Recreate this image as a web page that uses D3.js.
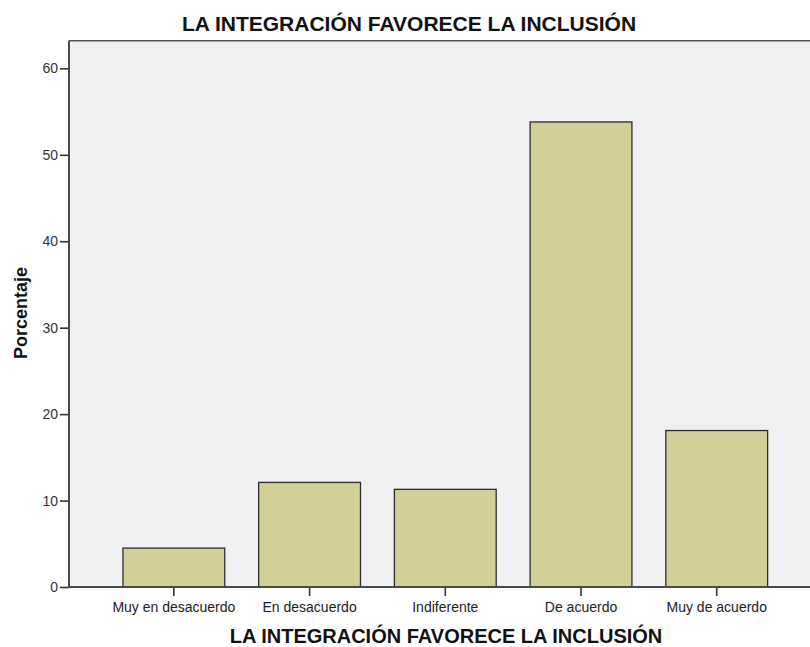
<!DOCTYPE html>
<html>
<head>
<meta charset="utf-8">
<script src="https://cdn.jsdelivr.net/npm/d3@7/dist/d3.min.js"></script>
<style>
  html, body { margin: 0; padding: 0; background: #ffffff; }
  svg { display: block; }
  text { font-family: "Liberation Sans", Arial, sans-serif; }
</style>
</head>
<body>
<svg id="chart" width="810" height="647"></svg>
<script>
const categories = ["Muy en desacuerdo", "En desacuerdo", "Indiferente", "De acuerdo", "Muy de acuerdo"];
const values = [4.5, 12.1, 11.3, 53.8, 18.1];
const yTicks = [0, 10, 20, 30, 40, 50, 60];
const title = "LA INTEGRACIÓN FAVORECE LA INCLUSIÓN";
const xTitle = "LA INTEGRACIÓN FAVORECE LA INCLUSIÓN";
const yTitle = "Porcentaje";

const W = 810, H = 647;
const plot = { left: 69, right: 810, top: 40.7, bottom: 587 };

const svg = d3.select("#chart");

const x = d3.scaleBand()
  .domain(categories)
  .range([106, 784.6])
  .paddingInner(0.25)
  .paddingOuter(0.125);

const y = d3.scaleLinear()
  .domain([0, 63.2])
  .range([plot.bottom, plot.top]);

// plot background
svg.append("rect")
  .attr("x", plot.left).attr("y", plot.top)
  .attr("width", plot.right - plot.left).attr("height", plot.bottom - plot.top)
  .attr("fill", "#f0f0f0");

// top border
svg.append("line")
  .attr("x1", plot.left).attr("x2", plot.right)
  .attr("y1", plot.top).attr("y2", plot.top)
  .attr("stroke", "#555").attr("stroke-width", 1.6);

// bars
svg.append("g").selectAll("rect")
  .data(values)
  .join("rect")
  .attr("x", (d, i) => x(categories[i]))
  .attr("y", d => y(d))
  .attr("width", x.bandwidth())
  .attr("height", d => y(0) - y(d))
  .attr("fill", "#d3cf98")
  .attr("stroke", "#2e2e2e")
  .attr("stroke-width", 1.3);

// y axis
const yAxis = svg.append("g")
  .attr("transform", `translate(${plot.left},0)`)
  .call(d3.axisLeft(y).tickValues(yTicks).tickSize(9).tickPadding(2).tickSizeOuter(0));
yAxis.select(".domain").remove();
yAxis.append("line")
  .attr("x1", 0).attr("x2", 0).attr("y1", plot.top).attr("y2", plot.bottom)
  .attr("stroke", "#4a4a4a").attr("stroke-width", 2);
yAxis.selectAll(".tick line").attr("stroke", "#333").attr("stroke-width", 1.6);
yAxis.selectAll(".tick text")
  .attr("fill", "#333").style("font-size", "14px")
  .style("font-family", "'Liberation Sans', Arial, sans-serif");

// x axis
const xAxis = svg.append("g")
  .attr("transform", `translate(0,${plot.bottom})`)
  .call(d3.axisBottom(x).tickSize(9).tickPadding(6).tickSizeOuter(0));
xAxis.select(".domain").remove();
xAxis.append("line")
  .attr("x1", plot.left).attr("x2", plot.right).attr("y1", 0).attr("y2", 0)
  .attr("stroke", "#4a4a4a").attr("stroke-width", 2);
xAxis.selectAll(".tick line").attr("stroke", "#333").attr("stroke-width", 1.6);
xAxis.selectAll(".tick text")
  .attr("fill", "#222").style("font-size", "14px")
  .style("font-family", "'Liberation Sans', Arial, sans-serif");

// titles
svg.append("text")
  .attr("x", 409).attr("y", 31)
  .attr("text-anchor", "middle")
  .style("font-size", "21px").style("font-weight", "bold")
  .attr("fill", "#111")
  .text(title);

svg.append("text")
  .attr("x", 446).attr("y", 643)
  .attr("text-anchor", "middle")
  .style("font-size", "20px").style("font-weight", "bold")
  .attr("fill", "#111")
  .text(xTitle);

svg.append("text")
  .attr("transform", `translate(27,313) rotate(-90)`)
  .attr("text-anchor", "middle")
  .style("font-size", "18px").style("font-weight", "bold")
  .attr("fill", "#111")
  .text(yTitle);
</script>
</body>
</html>
